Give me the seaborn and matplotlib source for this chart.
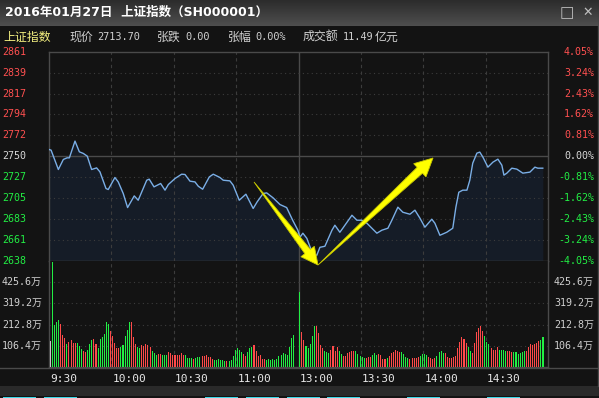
import numpy as np
import pandas as pd
import matplotlib
matplotlib.use("Agg")
import matplotlib.pyplot as plt
import matplotlib.transforms as mtransforms
from matplotlib.patches import Polygon, Rectangle
from matplotlib.colors import LinearSegmentedColormap
import seaborn as sns

# ---- data ----
prev_close = 2749.79
pct_ticks = [4.05, 3.24, 2.43, 1.62, 0.81, 0.00, -0.81, -1.62, -2.43, -3.24, -4.05]
price_labels = ['2861', '2839', '2817', '2794', '2772', '2750', '2727', '2705', '2683', '2661', '2638']
vol_ticks = [106.4, 212.8, 319.2, 425.6]
vol_labels = ['106.4万', '212.8万', '319.2万', '425.6万']
vol_max = 532.0
time_ticks = [0, 30, 60, 90, 120, 150, 180, 210]
time_labels = ['9:30', '10:00', '10:30', '11:00', '13:00', '13:30', '14:00', '14:30']

# minutes since 9:30 (11:30 and 13:00 share minute 120)
price_min = [0, 1, 4.5, 6.9, 8.7, 9.8, 12.5, 14.6, 16.5, 18.4, 20.5, 22.9, 24.5, 27.4, 28.5,
             31.7, 33.3, 35.7, 37.8, 41.0, 42.9, 47.0, 48.2, 50.5, 53.7, 55.8, 57.4, 60.6,
             63.8, 65.4, 67.8, 70.2, 71.8, 73.9, 77.1, 79.0, 82.2, 83.8, 87.0, 88.6, 91.5,
             94.7, 98.2, 100.1, 103.0, 104.7, 107.8, 111.1, 114.3, 117.2, 119.7, 120.7,
             122.1, 124.0, 126.9, 128.8, 130.3, 132.7, 136.1, 137.5, 139.9, 141.3, 145.7,
             148.1, 150.5, 152.9, 155.3, 157.7, 160.1, 163.0, 164.9, 167.8, 170.2, 173.6,
             176.0, 178.4, 180.8, 184.1, 185.6, 188.0, 191.3, 194.2, 195.7, 197.1, 199.0,
             201.0, 202.4, 203.8, 205.8, 207.2, 208.7, 211.1, 213.5, 215.9, 217.8, 218.8,
             220.2, 222.6, 225.0, 227.9, 231.3, 233.7, 235.1, 237.5]
price_val = [2757.1, 2756.4, 2735.8, 2746.5, 2748.2, 2748.2, 2766.0, 2754.6, 2752.9, 2750.0,
             2735.8, 2737.5, 2733.3, 2715.6, 2714.5, 2727.3, 2722.6, 2710.3, 2695.3, 2707.7,
             2703.1, 2724.4, 2725.5, 2717.3, 2720.9, 2713.8, 2719.8, 2726.2, 2730.8, 2730.5,
             2723.4, 2722.6, 2718.0, 2714.8, 2727.9, 2730.8, 2727.3, 2724.4, 2723.7, 2719.1,
             2703.1, 2709.5, 2694.3, 2701.3, 2710.3, 2710.9, 2705.6, 2698.5, 2695.3, 2681.8,
             2671.2, 2663.7, 2668.0, 2662.6, 2645.6, 2644.5, 2653.0, 2654.1, 2671.2, 2676.5,
             2669.0, 2673.3, 2687.1, 2681.8, 2681.8, 2678.6, 2673.3, 2668.0, 2671.2, 2673.3,
             2681.8, 2695.7, 2690.3, 2688.2, 2692.5, 2684.0, 2674.4, 2682.9, 2678.6, 2665.8,
             2669.0, 2673.3, 2695.7, 2711.6, 2713.8, 2713.8, 2724.4, 2742.5, 2753.2, 2754.3,
             2748.9, 2738.3, 2743.6, 2746.8, 2740.4, 2729.8, 2731.9, 2737.2, 2736.2, 2731.9,
             2733.0, 2738.3, 2737.2, 2737.2]

# volume per minute (万手), w = auction, r = up, g = down
am_vol = [131.7, 525, 209.4, 228, 238, 214.5, 162, 147, 116.5, 126.7,
          136.8, 121.6, 121.6, 121.6, 106.4, 91.2, 81.1, 76, 86.1, 116.5,
          136.8, 141.9, 116.5, 96.3, 141.9, 152, 167.2, 228, 217.9, 182.4,
          157.1, 121.6, 96.3, 96.3, 101.3, 111.5, 157.1, 187.5, 228, 228,
          152, 116.5, 101.3, 96.3, 111.5, 106.4, 116.5, 111.5, 101.3, 81.1,
          70.9, 60.8, 65.9, 65.9, 60.8, 60.8, 60.8, 76, 70.9, 60.8,
          60.8, 60.8, 60.8, 70.9, 60.8, 60.8, 45.6, 45.6, 45.6, 40.5,
          45.6, 50.7, 50.7, 55.7, 55.7, 60.8, 50.7, 50.7, 40.5, 35.5,
          35.5, 40.5, 35.5, 35.5, 30.4, 30.4, 30.4, 35.5, 55.7, 86.1,
          96.3, 86.1, 76, 65.9, 55.7, 76, 96.3, 101.3, 111.5, 81.1,
          55.7, 60.8, 40.5, 40.5, 35.5, 40.5, 35.5, 40.5, 35.5, 40.5,
          55.7, 60.8, 70.9, 65.9, 60.8, 101.3, 147, 162]
am_dir = ("w" "gggg" "rrr" "g" "rrrr" "ggg" "rr" "ggg" "rr" "gggggg" "rrrrr" "ggggg" "rrr"
          "gg" "rrrrr" "ggg" "rr" "ggg" "rrrrrrrr" "gggg" "r" "ggg" "rrrrrr" "gggggg" "r"
          "ggggggg" "rr" "ggg" "rrrrrr" "gggggggggggggg")
pm_vol = [377, 174, 133.4, 103, 92.9, 113.2, 153.7, 204.4, 204.4, 168.9,
          108.1, 96.3, 82.8, 77.7, 72.6, 87.8, 103, 82.8, 98, 82.8,
          67.6, 57.4, 57.4, 72.6, 77.7, 82.8, 82.8, 82.8, 67.6, 57.4,
          52.4, 47.3, 47.3, 52.4, 52.4, 62.5, 72.6, 62.5, 67.6, 62.5,
          40.5, 40.5, 47.3, 57.4, 72.6, 77.7, 86.1, 82.8, 77.7, 77.7,
          67.6, 52.4, 47.3, 42.2, 47.3, 47.3, 47.3, 52.4, 57.4, 67.6,
          67.6, 62.5, 52.4, 47.3, 42.2, 47.3, 57.4, 77.7, 82.8, 72.6,
          72.6, 52.4, 47.3, 47.3, 52.4, 57.4, 92.9, 123.3, 148.6, 141.9,
          119.9, 98, 82.8, 72.6, 118.2, 174, 194.2, 204.4, 179, 153.7,
          123.3, 113.2, 92.9, 87.8, 87.8, 98, 87.8, 87.8, 87.8, 82.8,
          82.8, 82.8, 77.7, 77.7, 77.7, 67.6, 72.6, 77.7, 82.8, 82.8,
          98, 113.2, 108.1, 113.2, 118.2, 128.4, 133.4, 148.6]
pm_dir = ("g" "rr" "ggggg" "rrrr" "ggg" "rrrr" "gg" "rrrrrr" "ggggg" "rrr" "ggg" "rrrr" "g"
          "rrrrrr" "gggg" "rrrrr" "gggg" "rrrr" "gggg" "rrrrrrrrrrr" "gg" "rrrrrr" "ggg"
          "rrrr" "gggg" "rrr" "gggggg" "rrrrrrr" "gg")

# ---- style ----
BG = '#131313'
GRID = '#3c3c3c'
BORDER = '#4a4a4a'
RED = '#ff4a4a'
GREEN = '#22ee44'
TXT = '#d0d0d0'
MONO = ['DejaVu Sans Mono', 'Noto Sans CJK SC']
CJK = ['Noto Sans CJK SC', 'DejaVu Sans']
BAR_COLORS = {'r': RED, 'g': GREEN, 'w': '#c8c8c8'}

W, H = 599, 398
fig = plt.figure(figsize=(W / 100, H / 100), dpi=100, facecolor=BG)


def box(x0, y0, x1, y1):
    return [x0 / W, 1 - y1 / H, (x1 - x0) / W, (y1 - y0) / H]


pax = fig.add_axes(box(49, 51.7, 548, 261))
vax = fig.add_axes(box(49, 261, 548, 367))

hi = prev_close * (1 + pct_ticks[0] / 100)
lo = prev_close * (1 + pct_ticks[-1] / 100)
tick_prices = [prev_close * (1 + p / 100) for p in pct_ticks]

for a in (pax, vax):
    a.set_facecolor(BG)
    for s in a.spines.values():
        s.set_color(BORDER)
        s.set_linewidth(1)
    for t in time_ticks[1:]:
        if t == 120:
            a.axvline(t, color=BORDER, lw=1, zorder=2)
        else:
            a.axvline(t, color=GRID, lw=0.8, ls=(0, (3, 3)), zorder=2)
vax.spines['top'].set_visible(False)

# price panel
pax.fill_between(price_min, price_val, lo, color='#151c27', lw=0, zorder=1)
sns.lineplot(x=price_min, y=price_val, ax=pax, color='#7aaee6', linewidth=1.0, sort=False, zorder=3)
for p, tp in zip(pct_ticks, tick_prices):
    if p == 0:
        pax.axhline(tp, color=BORDER, lw=1, zorder=2)
    elif abs(p) < 4:
        pax.axhline(tp, color=GRID, lw=0.8, ls=(0, (1, 3)), zorder=2)
pax.set_xlim(0, 240)
pax.set_ylim(lo, hi)

# volume panel, one seaborn call per bar colour
am_pos = np.arange(len(am_vol)) + 0.6
pm_pos = np.arange(len(pm_vol)) + 120.6
vol_df = pd.DataFrame({'pos': np.concatenate([am_pos, pm_pos]),
                       'vol': am_vol + pm_vol,
                       'dir': list(am_dir + pm_dir)})
for d, sub in vol_df.groupby('dir'):
    sns.barplot(data=sub, x='pos', y='vol', color=BAR_COLORS[d], native_scale=True,
                width=0.5, saturation=1, errorbar=None, linewidth=0, edgecolor='none',
                antialiased=False, ax=vax, zorder=3)
for v in vol_ticks:
    vax.axhline(v, color=GRID, lw=0.8, ls=(0, (1, 3)), zorder=2)
vax.set_xlim(0, 240)
vax.set_ylim(0, vol_max)

for a in (pax, vax):
    a.set_xticks([])
    a.set_yticks([])
    a.set_xlabel('')
    a.set_ylabel('')

# ---- frame, header, labels ----
ui = fig.add_axes([0, 0, 1, 1])
ui.axis('off')
grad = np.linspace(0, 1, 26)[:, None]
ui.imshow(grad, extent=(0, W, 26, 0), aspect='auto',
          cmap=LinearSegmentedColormap.from_list('bar', ['#2c2c2c', '#4e4e4e']), zorder=0)
ui.add_patch(Rectangle((0, 386), W, 10, color='#2a2a2a', lw=0))
# tab strip peeking out at the very bottom
for x0, x1 in [(3, 36), (44, 77), (205, 238), (246, 279), (287, 320), (327, 360), (407, 440), (487, 520)]:
    ui.add_patch(Rectangle((x0, 396.5), x1 - x0, 1.5, color='#3cd8e8', lw=0))
ui.plot([0, 597], [367.5, 367.5], color=BORDER, lw=1)
ui.plot([597.5, 597.5], [26, 386], color=BORDER, lw=1)
ui.set_xlim(0, W)
ui.set_ylim(H, 0)

ui.text(5, 12.5, '2016年01月27日  上证指数（SH000001）', color='white', fontsize=9,
        fontweight='bold', family=['DejaVu Sans', 'Noto Sans CJK SC'], va='center')
ui.text(567, 12.5, '□', color='#c0c0c0', fontsize=11, family='DejaVu Sans', va='center', ha='center')
ui.text(588, 12.5, '✕', color='#c0c0c0', fontsize=9, family='DejaVu Sans', va='center', ha='center')

ui.text(3, 37, '上证指数', color='#f4f080', fontsize=8.6, family=CJK, va='center')
info = [(69, '现价', CJK), (97, '2713.70', MONO), (157, '张跌', CJK), (185, '0.00', MONO),
        (228, '张幅', CJK), (255, '0.00%', MONO), (303, '成交额', CJK), (343, '11.49', MONO),
        (375, '亿元', CJK)]
for x, s, fam in info:
    ui.text(x, 37, s, color=TXT, fontsize=8.6 if fam is CJK else 7.4, family=fam, va='center')

ptrans = mtransforms.blended_transform_factory(ui.transData, pax.transData)
for p, tp, lab in zip(pct_ticks, tick_prices, price_labels):
    c = '#ff5050' if p > 0 else (GREEN if p < 0 else '#d8d8d8')
    ui.text(2, tp, lab, color=c, fontsize=7.2, family=MONO, va='center', ha='left', transform=ptrans)
    ui.text(594, tp, f'{p:.2f}%', color=c, fontsize=7.2, family=MONO, va='center', ha='right',
            transform=ptrans)

vtrans = mtransforms.blended_transform_factory(ui.transData, vax.transData)
for v, lab in zip(vol_ticks, vol_labels):
    ui.text(2, v, lab, color=TXT, fontsize=7.2, family=MONO, va='center', ha='left', transform=vtrans)
    ui.text(594, v, lab, color=TXT, fontsize=7.2, family=MONO, va='center', ha='right', transform=vtrans)

ttrans = mtransforms.blended_transform_factory(pax.transData, ui.transData)
for t, lab in zip(time_ticks, time_labels):
    ui.text(t + 0.6, 378.5, lab, color='#e8e8e8', fontsize=8, family=MONO, va='center', ha='left',
            transform=ttrans)


# yellow annotation arrows
def arrow(tail, tip, head_len, head_half, shaft_half):
    tail, tip = np.array(tail, float), np.array(tip, float)
    u = (tip - tail) / np.hypot(*(tip - tail))
    n = np.array([-u[1], u[0]])
    base = tip - u * head_len
    pts = [tail, base + n * shaft_half, base + n * head_half, tip,
           base - n * head_half, base - n * shaft_half]
    ui.add_patch(Polygon(pts, closed=True, facecolor='#ffff00', edgecolor='#c8c800',
                         lw=0.6, zorder=10))


arrow((254, 182), (318, 265), 17, 8.5, 3.5)
arrow((318, 265), (433, 158), 18, 9, 4)

fig.savefig('out.png', dpi=100, facecolor=BG)
